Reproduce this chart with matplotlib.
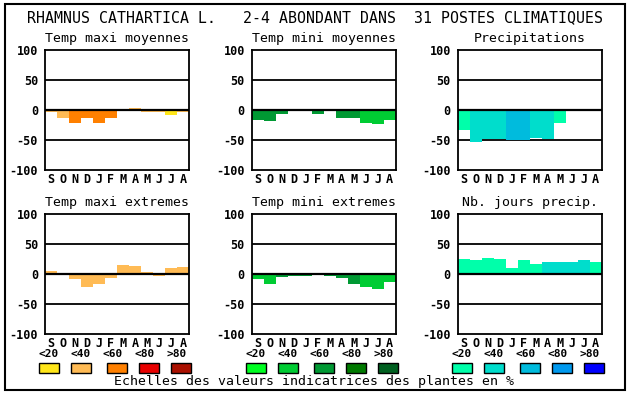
import matplotlib
matplotlib.use("Agg")
import matplotlib.pyplot as plt
from matplotlib.patches import Rectangle

plt.rcParams['font.family'] = ['DejaVu Sans Mono', 'DejaVu Sans']
plt.rcParams['axes.unicode_minus'] = False

W, H = 630, 394

title = "RHAMNUS CATHARTICA L.   2-4 ABONDANT DANS  31 POSTES CLIMATIQUES"
caption = "Echelles des valeurs indicatrices des plantes en %"
months = ["S", "O", "N", "D", "J", "F", "M", "A", "M", "J", "J", "A"]
level_labels = ["<20", "<40", "<60", "<80", ">80"]
yticks = [-100, -50, 0, 50, 100]

panel_titles = ["Temp maxi moyennes", "Temp mini moyennes", "Precipitations",
                "Temp maxi extremes", "Temp mini extremes", "Nb. jours precip."]

temp_maxi_moy = [-4, -14, -21, -14, -21, -13, 2, 4, -4, -4, -8, -4]
temp_maxi_moy_lvl = [1, 1, 2, 2, 2, 2, 1, 1, 1, 1, 0, 1]
temp_mini_moy = [-16, -18, -6, 0, 2, -7, -2, -13, -13, -21, -23, -16]
temp_mini_moy_lvl = [2, 2, 2, 2, 2, 2, 1, 2, 2, 1, 1, 1]
precip = [-34, -54, -48, -49, -50, -50, -46, -48, -21, -2, 0, -2]
precip_lvl = [0, 1, 1, 1, 2, 2, 1, 1, 0, 1, 1, 1]
temp_maxi_ext = [5, 0, -8, -21, -16, -6, 15, 13, 3, -3, 10, 12]
temp_maxi_ext_lvl = [1, 1, 1, 1, 1, 1, 1, 1, 1, 1, 1, 1]
temp_mini_ext = [-8, -16, -5, -4, -4, -2, -3, -7, -17, -22, -25, -14]
temp_mini_ext_lvl = [1, 1, 2, 2, 2, 1, 2, 2, 2, 1, 1, 1]
nb_jours = [25, 23, 27, 25, 10, 23, 17, 20, 20, 20, 23, 20]
nb_jours_lvl = [0, 0, 0, 0, 0, 0, 0, 1, 1, 1, 1, 0]

orange = ["#FFE619", "#FFBB55", "#FF8000", "#E80000", "#AA1000"]
green = ["#00FF22", "#00CC33", "#009933", "#007A00", "#006020"]
blue = ["#00FFAA", "#00DDCC", "#00BBDD", "#0099EE", "#0000FF"]

series = [temp_maxi_moy, temp_mini_moy, precip, temp_maxi_ext, temp_mini_ext, nb_jours]
lvls = [temp_maxi_moy_lvl, temp_mini_moy_lvl, precip_lvl,
        temp_maxi_ext_lvl, temp_mini_ext_lvl, nb_jours_lvl]
palettes = [orange, green, blue, orange, green, blue]

col_left = [45, 251.7, 457.7]
row_top = [50, 214]
aw, ah = 144, 120

fig = plt.figure(figsize=(W / 100, H / 100), dpi=100)
fig.patch.set_facecolor("white")


def fx(x):
    return x / W


def fy(y):
    return 1 - y / H


# outer border
fig.patches.append(Rectangle((fx(5), fy(390)), fx(620), (386) / H, fill=False,
                             edgecolor="black", lw=1.5, transform=fig.transFigure))

fig.text(fx(27), fy(18), title, ha="left", va="center", fontsize=10.76)

for i in range(6):
    r, c = divmod(i, 3)
    L = col_left[c]
    T = row_top[r]
    ax = fig.add_axes([fx(L), fy(T + ah), aw / W, ah / H])
    vals = series[i]
    cols = [palettes[i][k] for k in lvls[i]]
    ax.bar(range(12), vals, width=1.0, color=cols, linewidth=0, zorder=2)
    for g in (-50, 50):
        ax.axhline(g, color="black", lw=1.3, zorder=1)
    ax.axhline(0, color="black", lw=1.6, zorder=3)
    ax.set_xlim(-0.5, 11.5)
    ax.set_ylim(-100, 100)
    ax.set_yticks(yticks)
    ax.set_yticklabels([str(v) for v in yticks], fontsize=8.5, fontweight="bold")
    ax.set_xticks(range(12))
    ax.set_xticklabels(months, fontsize=8.5, fontweight="bold")
    ax.tick_params(axis="y", length=0, pad=5)
    ax.tick_params(axis="x", length=0, pad=2)
    for s in ax.spines.values():
        s.set_linewidth(1.3)
    fig.text(fx(L + aw / 2), fy(T - 11.5), panel_titles[i], ha="center",
             va="center", fontsize=9.5)

# legends
box_off = [0, 32, 68, 100, 132]
for c in range(3):
    L = col_left[c]
    pal = palettes[3 + c]
    for k in range(5):
        fig.text(fx(L - 6 + 32 * k + 10), fy(354), level_labels[k], ha="center",
                 va="center", fontsize=8, fontweight="bold")
        fig.patches.append(Rectangle((fx(L - 6 + box_off[k]), fy(373)), 20 / W, 10 / H,
                                     facecolor=pal[k], edgecolor="black", lw=1,
                                     transform=fig.transFigure))

fig.text(fx(314.5), fy(382), caption, ha="center", va="center", fontsize=9.5)

fig.savefig("out.png", dpi=100)
